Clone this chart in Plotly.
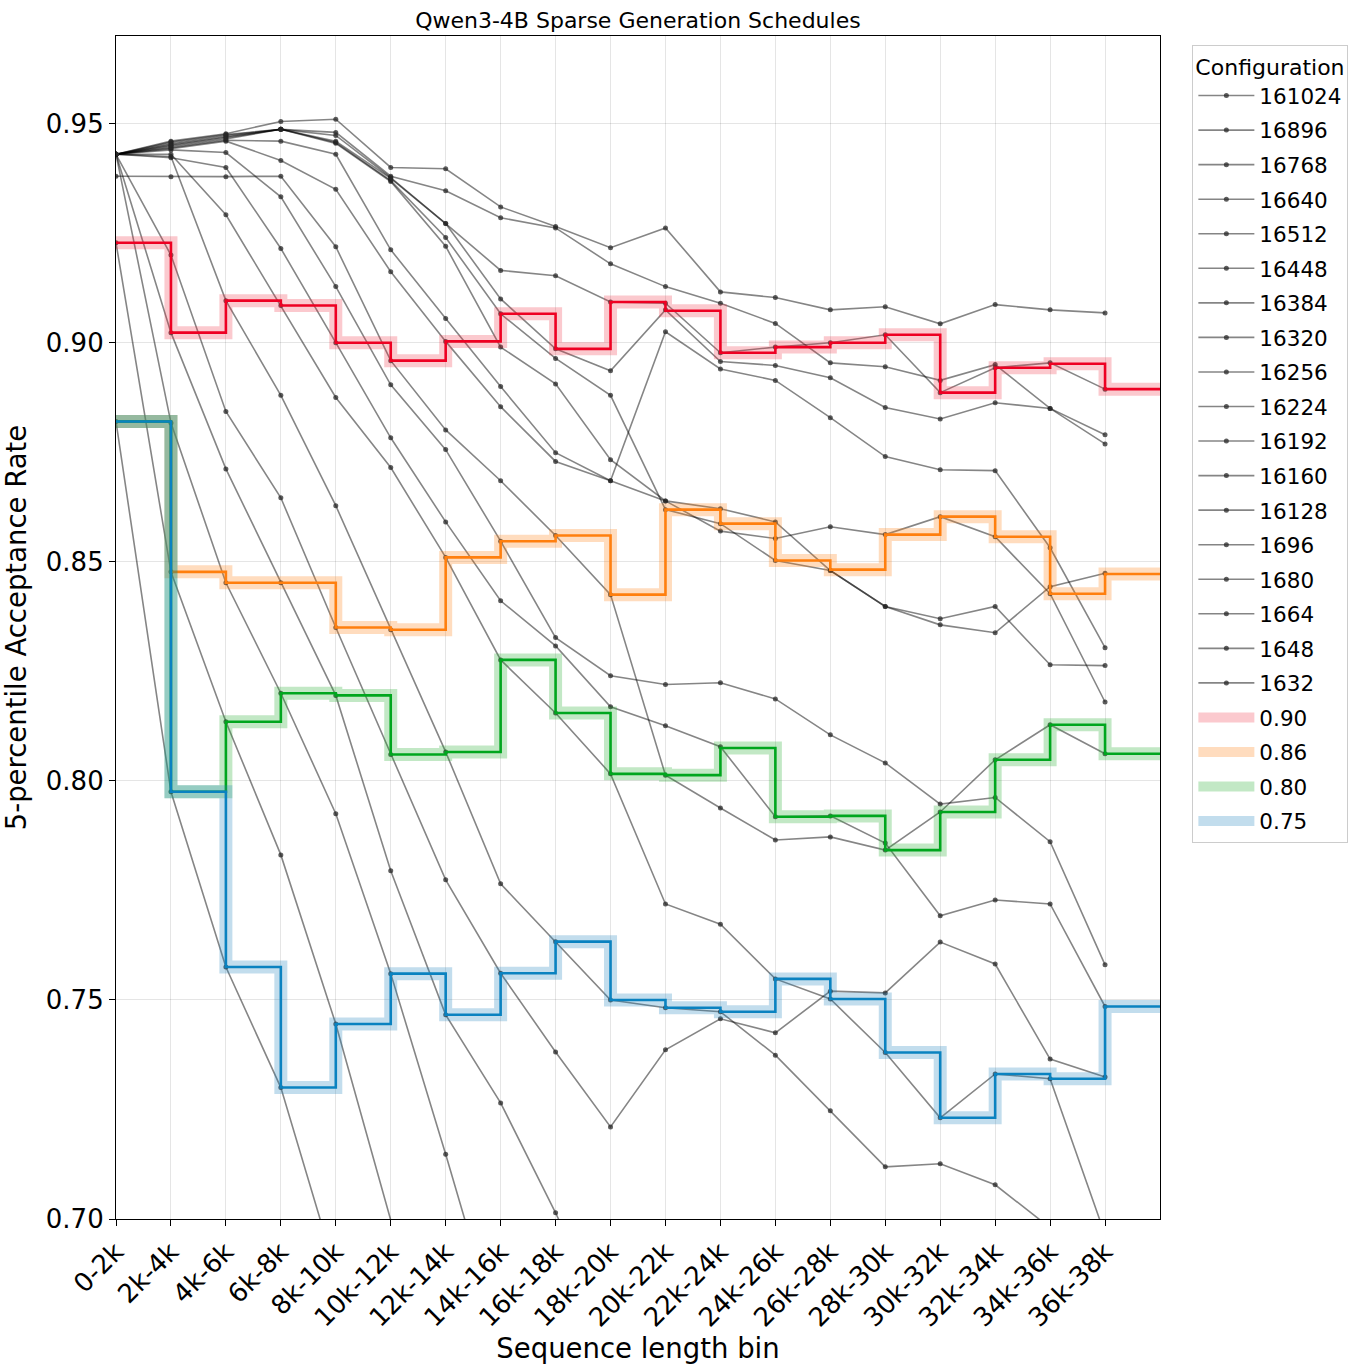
import plotly.graph_objects as go

bins = ["0-2k", "2k-4k", "4k-6k", "6k-8k", "8k-10k", "10k-12k", "12k-14k", "14k-16k",
        "16k-18k", "18k-20k", "20k-22k", "22k-24k", "24k-26k", "26k-28k", "28k-30k",
        "30k-32k", "32k-34k", "34k-36k", "36k-38k"]

configs = ["161024", "16896", "16768", "16640", "16512", "16448", "16384", "16320", "16256",
           "16224", "16192", "16160", "16128", "1696", "1680", "1664", "1648", "1632"]

c161024 = [0.943, 0.946, 0.9477, 0.9505, 0.951, 0.940, 0.9397, 0.931, 0.9265, 0.9217, 0.9262, 0.9116, 0.9103, 0.9075, 0.9082, 0.9043, 0.9087, 0.9075, 0.9068]
c16896 = [0.943, 0.9458, 0.9475, 0.9487, 0.948, 0.938, 0.9347, 0.9285, 0.9262, 0.918, 0.9128, 0.909, 0.9044, 0.8954, 0.8945, 0.8914, 0.895, 0.885, 0.879]
c16768 = [0.943, 0.9455, 0.9473, 0.9487, 0.9473, 0.9377, 0.9272, 0.9165, 0.9153, 0.9093, 0.909, 0.8977, 0.899, 0.900, 0.9018, 0.8886, 0.8943, 0.8954, 0.8894]
c16640 = [0.943, 0.9452, 0.947, 0.9487, 0.946, 0.9375, 0.9272, 0.910, 0.8986, 0.8936, 0.9075, 0.8957, 0.8948, 0.892, 0.8852, 0.8826, 0.8863, 0.885, 0.8769]
c16512 = [0.943, 0.945, 0.9468, 0.9487, 0.9457, 0.937, 0.924, 0.9066, 0.8964, 0.888, 0.8619, 0.8587, 0.8503, 0.848, 0.8398, 0.8356, 0.8338, 0.8443, 0.8474]
c16448 = [0.943, 0.9448, 0.9465, 0.9487, 0.9455, 0.9368, 0.922, 0.899, 0.8906, 0.8733, 0.8639, 0.8621, 0.8591, 0.848, 0.8398, 0.837, 0.8398, 0.8265, 0.8263]
c16384 = [0.943, 0.9445, 0.9462, 0.946, 0.943, 0.9212, 0.9055, 0.890, 0.8749, 0.8685, 0.8639, 0.857, 0.8553, 0.858, 0.8562, 0.8603, 0.8557, 0.8427, 0.818]
c16320 = [0.943, 0.9443, 0.946, 0.9416, 0.935, 0.9162, 0.9003, 0.8854, 0.8729, 0.8685, 0.9025, 0.894, 0.8914, 0.8829, 0.874, 0.871, 0.8708, 0.8532, 0.8304]
c16256 = [0.938, 0.9379, 0.9379, 0.938, 0.9219, 0.8959, 0.8801, 0.8685, 0.856, 0.8425, 0.8013, 0.7938, 0.7865, 0.7872, 0.7842, 0.7929, 0.8048, 0.8128, 0.8062]
c16224 = [0.943, 0.944, 0.9434, 0.9333, 0.9128, 0.8904, 0.8756, 0.8547, 0.8327, 0.824, 0.822, 0.8224, 0.8187, 0.8105, 0.8041, 0.7947, 0.7962, 0.7861, 0.758]
c16192 = [0.943, 0.9422, 0.940, 0.9215, 0.900, 0.8783, 0.8591, 0.8411, 0.8308, 0.8169, 0.8126, 0.8078, 0.7918, 0.792, 0.7858, 0.7692, 0.7728, 0.7719, 0.7485]
c16160 = [0.943, 0.943, 0.9292, 0.9085, 0.8875, 0.8715, 0.851, 0.8276, 0.8155, 0.8016, 0.7719, 0.7673, 0.7548, 0.7502, 0.738, 0.7231, 0.7331, 0.732, 0.6964]
c16128 = [0.943, 0.9425, 0.9096, 0.888, 0.8628, 0.8345, 0.8066, 0.7765, 0.7633, 0.750, 0.7482, 0.7473, 0.7374, 0.7247, 0.7119, 0.7126, 0.7078, 0.698, 0.685]
c1696 = [0.943, 0.920, 0.8843, 0.8646, 0.835, 0.806, 0.7774, 0.7561, 0.7381, 0.721, 0.7386, 0.7457, 0.7425, 0.752, 0.7516, 0.7632, 0.7582, 0.7365, 0.7324]
c1680 = [0.943, 0.9023, 0.8712, 0.8452, 0.8195, 0.7795, 0.7466, 0.7265, 0.7014, 0.675, 0.655, 0.64, 0.63, 0.62, 0.61, 0.60, 0.59, 0.58, 0.57]
c1664 = [0.943, 0.8817, 0.8452, 0.820, 0.7925, 0.756, 0.7148, 0.672, 0.64, 0.62, 0.60, 0.59, 0.58, 0.57, 0.56, 0.55, 0.54, 0.53, 0.52]
c1648 = [0.9228, 0.8477, 0.8135, 0.7831, 0.7445, 0.699, 0.655, 0.62, 0.59, 0.57, 0.55, 0.54, 0.53, 0.52, 0.51, 0.50, 0.49, 0.48, 0.47]
c1632 = [0.882, 0.7975, 0.7575, 0.730, 0.688, 0.645, 0.605, 0.57, 0.55, 0.53, 0.51, 0.50, 0.49, 0.48, 0.47, 0.46, 0.45, 0.44, 0.43]

config_values = [c161024, c16896, c16768, c16640, c16512, c16448, c16384, c16320, c16256,
                 c16224, c16192, c16160, c16128, c1696, c1680, c1664, c1648, c1632]

sched_labels = ["0.90", "0.86", "0.80", "0.75"]
s090 = [0.9228, 0.9023, 0.9096, 0.9085, 0.900, 0.8959, 0.9003, 0.9066, 0.8986, 0.9093, 0.9073, 0.8977, 0.899, 0.900, 0.9018, 0.8886, 0.8943, 0.8952, 0.8894]
s086 = [0.882, 0.8477, 0.8452, 0.8452, 0.835, 0.8345, 0.851, 0.8547, 0.856, 0.8425, 0.8619, 0.8587, 0.8503, 0.8482, 0.8562, 0.8603, 0.8557, 0.8427, 0.8472]
s080 = [0.882, 0.7975, 0.8135, 0.820, 0.8195, 0.806, 0.8066, 0.8276, 0.8155, 0.8016, 0.8013, 0.8075, 0.7918, 0.792, 0.7842, 0.7929, 0.8048, 0.8128, 0.8062]
s075 = [0.882, 0.7975, 0.7575, 0.730, 0.7445, 0.756, 0.7466, 0.7561, 0.7633, 0.750, 0.7482, 0.7473, 0.7548, 0.7502, 0.738, 0.7231, 0.7331, 0.732, 0.7485]
sched_values = [s090, s086, s080, s075]
sched_colors = ["#ee0022", "#ff7f0e", "#00a61e", "#0a82c0"]
sched_bands = ["rgba(240,40,60,0.25)", "rgba(255,127,14,0.27)", "rgba(30,170,40,0.27)", "rgba(30,130,190,0.27)"]

xs = list(range(len(bins)))
xs_step = list(range(len(bins) + 1))

fig = go.Figure()

for name, vals in zip(configs, config_values):
    fig.add_trace(go.Scatter(
        x=xs, y=vals, mode="lines+markers", name=name, legendgroup=name,
        line=dict(color="rgba(0,0,0,0.48)", width=1.6),
        marker=dict(color="rgba(40,40,40,0.75)", size=5),
    ))

for lab, vals, col, band in zip(sched_labels, sched_values, sched_colors, sched_bands):
    ys = vals + [vals[-1]]
    fig.add_trace(go.Scatter(
        x=xs_step, y=ys, mode="lines", name=lab, line_shape="hv", legendgroup=lab,
        line=dict(color=band, width=13), showlegend=True,
    ))
    fig.add_trace(go.Scatter(
        x=xs_step, y=ys, mode="lines", name=lab, line_shape="hv", legendgroup=lab,
        line=dict(color=col, width=2.6), showlegend=False,
    ))

axis_common = dict(showline=True, linecolor="black", linewidth=1.2, mirror=True,
                   ticks="outside", ticklen=6, tickwidth=1.2, tickcolor="black",
                   showgrid=True, gridcolor="rgba(0,0,0,0.1)", gridwidth=1, zeroline=False)

fig.update_layout(
    width=1371, height=1372,
    margin=dict(l=116, r=211, t=36, b=153),
    paper_bgcolor="white", plot_bgcolor="white",
    font=dict(family="DejaVu Sans", color="black"),
    title=dict(text="Qwen3-4B Sparse Generation Schedules", x=0.4653, xanchor="center",
               y=0.985, yanchor="middle", font=dict(size=22)),
    xaxis=dict(range=[0, 19], tickmode="array", tickvals=xs, ticktext=bins, tickangle=-45,
               tickfont=dict(size=26),
               title=dict(text="Sequence length bin", font=dict(size=27.5), standoff=6),
               **axis_common),
    yaxis=dict(range=[0.70, 0.970], tickmode="array",
               tickvals=[0.70, 0.75, 0.80, 0.85, 0.90, 0.95],
               ticktext=["0.70", "0.75", "0.80", "0.85", "0.90", "0.95"],
               tickfont=dict(size=26),
               title=dict(text="5-percentile Acceptance Rate", font=dict(size=27.5), standoff=12),
               **axis_common),
    legend=dict(title=dict(text="Configuration", font=dict(size=22)),
                font=dict(size=21.5), x=1.031, xanchor="left", y=0.992, yanchor="top",
                bordercolor="rgba(0,0,0,0.2)", borderwidth=1, bgcolor="white",
                tracegroupgap=3.6, itemwidth=56),
    showlegend=True,
)

fig.write_html("out.html")
